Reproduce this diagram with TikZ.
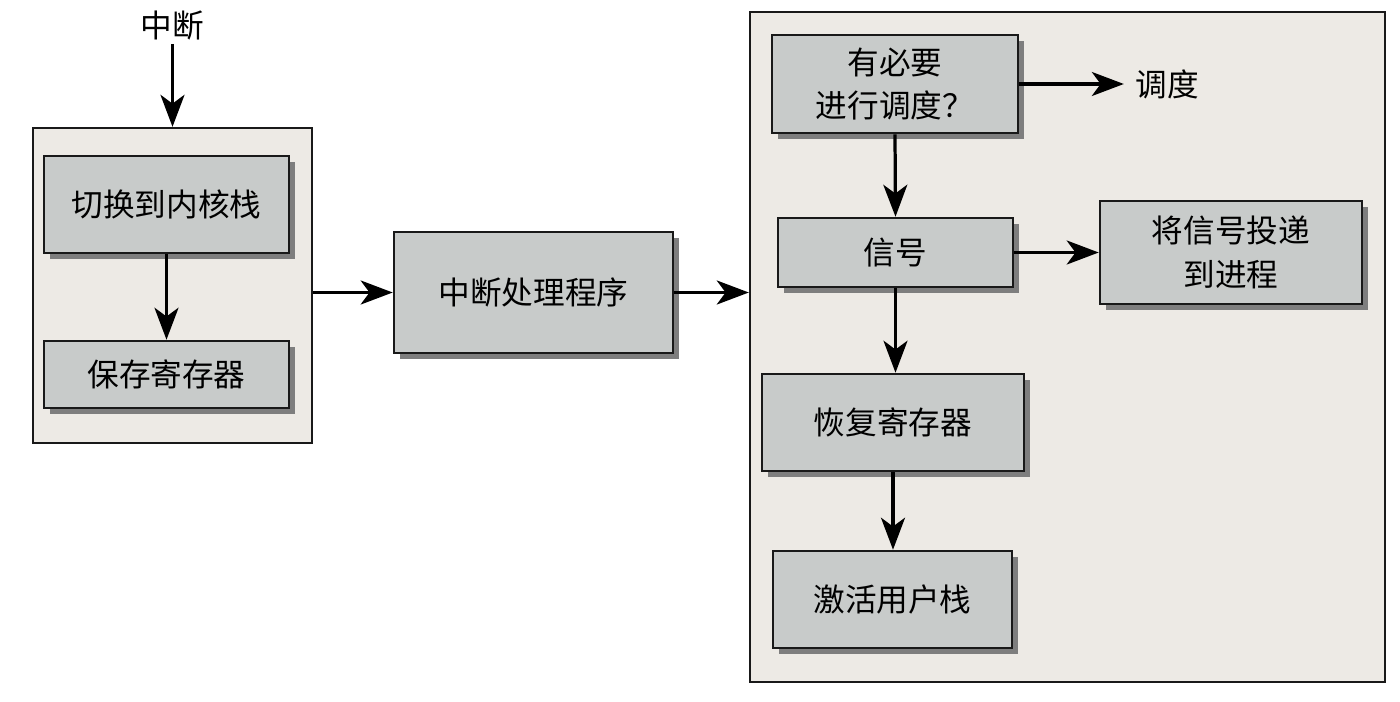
\documentclass[tikz,border=0pt]{standalone}
\usepackage{fontspec}
\newfontfamily\cjk{Noto Sans CJK SC}
\usetikzlibrary{arrows.meta,shadows}

\definecolor{panelbg}{HTML}{EDEAE5}
\definecolor{boxbg}{HTML}{C8CBCA}
\definecolor{shade}{HTML}{7E7E7E}

\tikzset{
  panel/.style={draw=black!90, line width=1.6pt, fill=panelbg, inner sep=0pt},
  stepbox/.style={draw=black!90, line width=1.8pt, fill=boxbg, inner sep=0pt,
    align=center, font=\cjk\fontsize{22.5}{31}\selectfont,
    general shadow={fill=shade, shadow xshift=0.14cm, shadow yshift=-0.14cm}},
  flow/.style={line width=2.3pt, -{Stealth[length=0.8cm,width=0.6cm,inset=0.22cm]}},
  lbl/.style={font=\cjk\fontsize{22.5}{31}\selectfont, inner sep=2pt}
}

\begin{document}
\begin{tikzpicture}[x=0.025cm, y=-0.025cm]
  \useasboundingbox[fill=white] (0,0) rectangle (1400,702);

  % left panel
  \node[panel, minimum width=6.975cm, minimum height=7.875cm] (kpanel) at (172.5,285.5) {};
  \node[stepbox, minimum width=6.125cm, minimum height=2.425cm] (swk) at (166.5,204.5) {切换到内核栈};
  \node[stepbox, minimum width=6.125cm, minimum height=1.675cm] (savereg) at (166.5,374.5) {保存寄存器};
  \node[lbl] (irq) at (172.5,26) {中断};

  % handler
  \node[stepbox, minimum width=6.975cm, minimum height=3.025cm] (isr) at (533.5,292.5) {中断处理程序};

  % right panel
  \node[panel, minimum width=15.875cm, minimum height=16.75cm] (rpanel) at (1067.5,347) {};
  \node[stepbox, minimum width=6.15cm, minimum height=2.45cm] (need) at (895,84) {有必要\\进行调度？};
  \node[lbl] (sched) at (1167,84) {调度};
  \node[stepbox, minimum width=5.875cm, minimum height=1.725cm] (sig) at (895.5,252.5) {信号};
  \node[stepbox, minimum width=6.55cm, minimum height=2.575cm] (deliver) at (1231,252.5) {将信号投递\\到进程};
  \node[stepbox, minimum width=6.55cm, minimum height=2.425cm] (restore) at (893,422.5) {恢复寄存器};
  \node[stepbox, minimum width=5.975cm, minimum height=2.425cm] (active) at (892.5,599.5) {激活用户栈};

  % connectors
  \draw[flow] (irq.south) -- (kpanel.north);
  \draw[flow] (swk.south) -- (savereg.north);
  \draw[flow] (kpanel.east |- isr.west) -- (isr.west);
  \draw[flow] (isr.east) -- (isr.east -| rpanel.west);
  \draw[flow, shorten >=6pt] (need.east) -- (sched.west);
  \draw[flow] (need.south) -- (sig.north);
  \draw[flow] (sig.east) -- (deliver.west);
  \draw[flow] (sig.south) -- (sig.south |- restore.north);
  \draw[flow] (restore.south) -- (restore.south |- active.north);
\end{tikzpicture}
\end{document}
